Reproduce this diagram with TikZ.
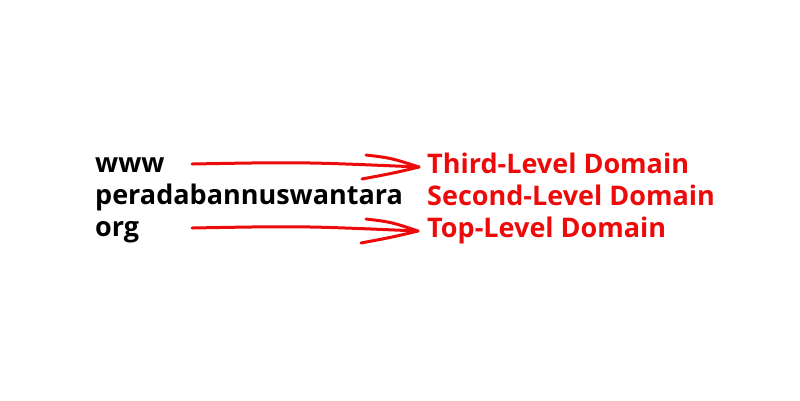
\documentclass[tikz,border=0pt]{standalone}
\usepackage{fontspec}
\setmainfont{Open Sans}
\definecolor{domred}{RGB}{236,10,10}
\begin{document}
\begin{tikzpicture}[x=1pt,y=-1pt,
  lbl/.style={anchor=base west,inner sep=0pt,font=\fontsize{27}{30}\selectfont\bfseries,text height=20pt,text depth=6pt},
  blk/.style={lbl,text=black},
  rd/.style={lbl,text=domred},
  arr/.style={draw=domred,line width=3pt,line cap=round,line join=round}]
\useasboundingbox (0,0) rectangle (800,400);
\node[blk] (www) at (95,172) {www};
\node[blk] (sld) at (95,204) {peradabannuswantara};
\node[blk] (org) at (95,236) {org};
\node[rd] (third) at (427,173) {Third-Level Domain};
\node[rd] (second) at (427,205) {Second-Level Domain};
\node[rd] (top) at (427,237) {Top-Level Domain};
\coordinate (t1) at ([xshift=-8pt,yshift=-1pt]third.west);
\coordinate (t2) at ([xshift=-9pt,yshift=-1pt]top.west);
\draw[arr] ([xshift=97pt,yshift=1pt]www.west) .. controls +(110,-2) .. (t1);
\draw[arr] (t1) ++(-53,-12) .. controls +(25,3) .. (t1) .. controls +(-25,6) .. ++(-57,12);
\draw[arr] ([xshift=97pt,yshift=1pt]org.west) .. controls +(110,-2) .. (t2);
\draw[arr] (t2) ++(-52,-12) .. controls +(25,3) .. (t2) .. controls +(-25,6) .. ++(-57,12);
\end{tikzpicture}
\end{document}
